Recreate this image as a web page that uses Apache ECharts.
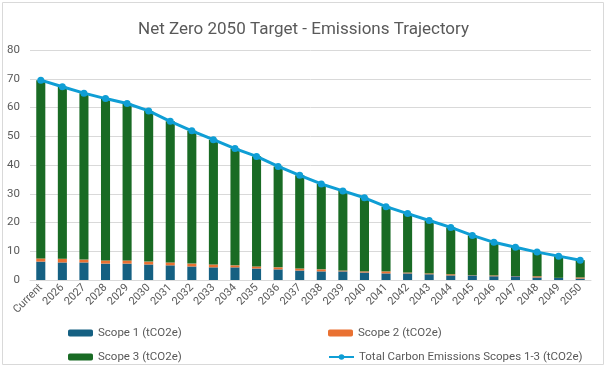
<!DOCTYPE html>
<html><head><meta charset="utf-8">
<script src="https://cdn.jsdelivr.net/npm/echarts@6/dist/echarts.min.js"></script>
<style>html,body{margin:0;padding:0;background:#fff}#c{width:607px;height:368px}</style>
</head><body><div id="c"></div>
<script>
const categories = ['Current','2026','2027','2028','2029','2030','2031','2032','2033','2034','2035','2036','2037','2038','2039','2040','2041','2042','2043','2044','2045','2046','2047','2048','2049','2050'];
const totalEmissions = [69.5,67.2,65.0,63.1,61.4,58.8,55.2,51.9,48.8,45.7,43.0,39.5,36.4,33.4,31.0,28.6,25.5,23.1,20.7,18.3,15.5,13.1,11.4,9.7,8.3,6.9];
const scope1 = [6.4,6.1,6.1,5.7,5.7,5.4,5.1,4.7,4.4,4.4,4.0,3.7,3.3,3.0,3.0,2.6,2.3,2.3,2.0,1.6,1.6,1.3,1.3,0.9,0.7,0.5];
const scope2 = [1.1,1.3,1.0,1.1,1.1,1.0,1.0,1.0,1.0,0.7,0.7,0.7,0.7,0.7,0.3,0.4,0.7,0.3,0.3,0.4,0.1,0.3,0.1,0.4,0.05,0.4];
const scope3 = totalEmissions.map((t,i)=>+(t - scope1[i] - scope2[i]).toFixed(2));
const yTicks = {min:0, max:80, interval:10};

const chart = echarts.init(document.getElementById('c'));
const txt = '#595959';
const fontFamily = 'Roboto, "Liberation Sans", sans-serif';
const legendBase = {orient:'horizontal', itemWidth:25, itemHeight:7, itemGap:3,
  textStyle:{color:txt, fontSize:11.5, fontFamily}, selectedMode:false};
chart.setOption({
  animation:false,
  title:{text:'Net Zero 2050 Target - Emissions Trajectory', left:'center', top:16,
    textStyle:{color:txt, fontSize:17, fontWeight:'normal', fontFamily}},
  graphic:[{type:'rect', shape:{x:2.5,y:2.5,width:601,height:362},
    style:{fill:'none', stroke:'#d9d9d9', lineWidth:1}, silent:true}],
  grid:{left:30, right:16, top:50, bottom:88},
  legend:[
    Object.assign({}, legendBase, {left:63, top:322, data:['Scope 1 (tCO2e)']}),
    Object.assign({}, legendBase, {left:323, top:322, data:['Scope 2 (tCO2e)']}),
    Object.assign({}, legendBase, {left:63, top:346, data:['Scope 3 (tCO2e)']}),
    Object.assign({}, legendBase, {left:323, top:346, data:['Total Carbon Emissions Scopes 1-3 (tCO2e)']})
  ],
  xAxis:{type:'category', data:categories,
    axisLine:{lineStyle:{color:'#d9d9d9'}}, axisTick:{show:false},
    axisLabel:{rotate:45, color:txt, fontSize:11, fontFamily, margin:6, interval:0}},
  yAxis:{type:'value', min:yTicks.min, max:yTicks.max, interval:yTicks.interval,
    axisLabel:{color:txt, fontSize:11.5, fontFamily, margin:10},
    splitLine:{lineStyle:{color:'#d9d9d9'}}, axisLine:{show:false}},
  series:[
    {name:'Scope 1 (tCO2e)', type:'bar', stack:'s', data:scope1, barWidth:'42%', itemStyle:{color:'#156082'}},
    {name:'Scope 2 (tCO2e)', type:'bar', stack:'s', data:scope2, itemStyle:{color:'#E97132'}},
    {name:'Scope 3 (tCO2e)', type:'bar', stack:'s', data:scope3, itemStyle:{color:'#196B24'}},
    {name:'Total Carbon Emissions Scopes 1-3 (tCO2e)', type:'line', data:totalEmissions,
      symbol:'circle', symbolSize:7, lineStyle:{color:'#0F9ED5', width:3},
      itemStyle:{color:'#0F9ED5'}}
  ]
});
</script></body></html>
